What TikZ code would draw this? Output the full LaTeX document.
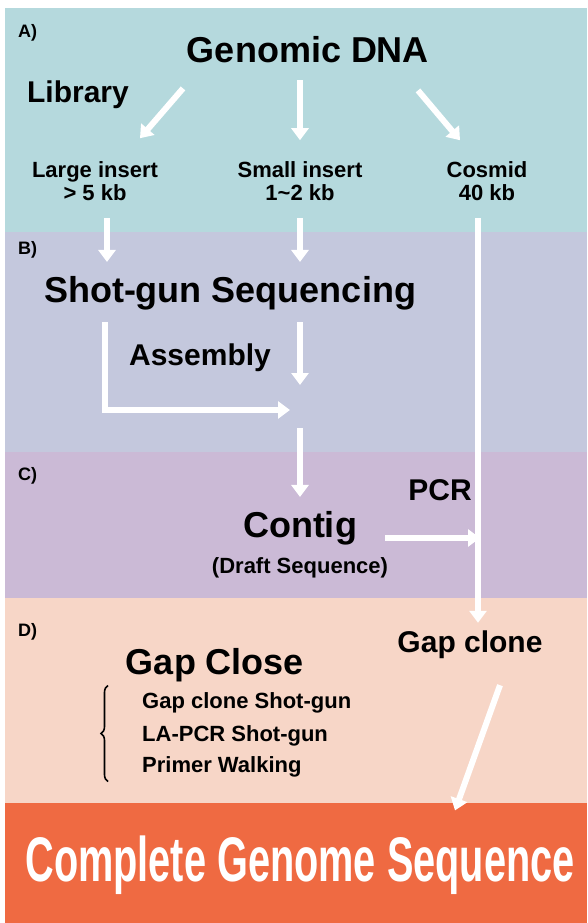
\documentclass[tikz,border=0pt]{standalone}
\usepackage{fontspec}
\setmainfont{Liberation Sans}
\newfontfamily\narrowfont[FakeStretch=0.63]{Liberation Sans}
\usetikzlibrary{arrows.meta,calc,positioning,decorations.pathreplacing}
\definecolor{bandA}{RGB}{181,217,221}
\definecolor{bandB}{RGB}{196,200,221}
\definecolor{bandC}{RGB}{203,186,214}
\definecolor{bandD}{RGB}{247,214,199}
\definecolor{bandE}{RGB}{239,106,66}
\tikzset{
    >={Triangle[length=12pt,width=17pt]},
    bigtext/.style={
           font=\fontsize{36}{40}\selectfont\bfseries,
           inner sep=0pt},
    midtext/.style={
           font=\fontsize{30}{34}\selectfont\bfseries,
           inner sep=0pt},
    smalltext/.style={
           font=\fontsize{22}{23}\selectfont\bfseries,
           inner sep=0pt,
           align=center},
    itemtext/.style={
           font=\fontsize{22}{23}\selectfont\bfseries,
           inner sep=0pt,
           anchor=west},
    paneltag/.style={
           font=\fontsize{18}{20}\selectfont\bfseries,
           inner sep=0pt,
           anchor=west},
    donetext/.style={
           font=\narrowfont\fontsize{63}{70}\selectfont\bfseries,
           text=white,
           inner sep=0pt},
    pil/.style={
           ->,
           line width=6pt,
           draw=white},
    brace/.style={
           decorate,
           decoration={brace, amplitude=7pt},
           line width=1.6pt}
}

\begin{document}
\begin{tikzpicture}[x=1pt, y=-1pt, node distance=12pt]
        \useasboundingbox (0,0) rectangle (587,923);
        % panels
        \fill[white] (0,0) rectangle (587,923);
        \fill[bandA] (5,8) rectangle (587,232);
        \fill[bandB] (5,232) rectangle (587,452);
        \fill[bandC] (5,452) rectangle (587,598);
        \fill[bandD] (5,598) rectangle (587,803);
        \fill[bandE] (5,803) rectangle (587,923);

        \node[paneltag] (ta) at (18,33) {A)};
        \node[paneltag] (tb) at (18,250) {B)};
        \node[paneltag] (tc) at (18,476) {C)};
        \node[paneltag] (td) at (18,632) {D)};

        % A) library
        \node[bigtext] (gdna) at (308,50) {Genomic DNA};
        \node[midtext] (lib) at (78,95) {Library};
        \node[smalltext] (large) at (95,181) {Large insert\\> 5 kb};
        \node[smalltext] (small) at (300,181) {Small insert\\1\textasciitilde 2 kb};
        \node[smalltext] (cosmid) at (487,181) {Cosmid\\40 kb};

        % B) shot-gun
        \node[bigtext] (shotgun) at (230,293) {Shot-gun Sequencing};
        \node[midtext] (asm) at (200,358) {Assembly};
        \coordinate (join) at (300,410);

        % C) contig
        \node[bigtext] (contig) at (300,528) {Contig};
        \node[smalltext, below=of contig] (draft) {(Draft Sequence)};
        \node[midtext] (pcr) at (440,490) {PCR};

        % D) gap close
        \node[bigtext] (gapclose) at (215,665) {Gap Close};
        \node[midtext] (gapclone) at (470,645) {Gap clone};
        \node[itemtext] (gcsg) at (142,703) {Gap clone Shot-gun};
        \node[itemtext, below=12pt of gcsg.south west, anchor=north west] (lapcr) {LA-PCR Shot-gun};
        \node[itemtext, below=10pt of lapcr.south west, anchor=north west] (walk) {Primer Walking};
        \node[donetext] (complete) at (300,865) {Complete Genome Sequence};

        \draw[pil] ([shift={(-125,25)}]gdna.south) -- ([shift={(45,-23)}]large.north);
        \draw[pil, shorten <=17pt, shorten >=21pt] (small.north |- gdna.south) -- (small.north);
        \draw[pil] ([shift={(110,27)}]gdna.south) -- ([shift={(-27,-21)}]cosmid.north);

        \coordinate (ldown) at ([xshift=12pt]large.south);
        \draw[pil, shorten <=17pt, shorten >=14pt] (ldown) -- (ldown |- shotgun.north);
        \draw[pil, shorten <=17pt, shorten >=14pt] (small.south) -- (small.south |- shotgun.north);
        \coordinate (cline) at ([xshift=-9pt]cosmid.south);
        \draw[pil, shorten <=17pt, shorten >=8pt] (cline) -- (cline |- gapclone.north);

        \coordinate (lstart) at ([xshift=-125pt]shotgun.south);
        \draw[pil, shorten <=12pt, shorten >=10pt] (lstart) |- (join);
        \draw[pil, shorten <=12pt, shorten >=25pt] (shotgun.south -| join) -- (join);
        \draw[pil, shorten <=18pt, shorten >=14pt] (join) -- (join |- contig.north);

        \coordinate (pcrin) at ([shift={(0,10)}]contig.east);
        \draw[pil, shorten <=28pt, shorten >=-2pt] (pcrin) -- (pcrin -| cline);

        \draw[pil] ([shift={(30,26)}]gapclone.south) -- ([shift={(155,-25)}]complete.north);
        \draw[brace] ([shift={(-34,4)}]walk.south west) -- ([shift={(-34,-7)}]gcsg.north west);
\end{tikzpicture}
\end{document}
